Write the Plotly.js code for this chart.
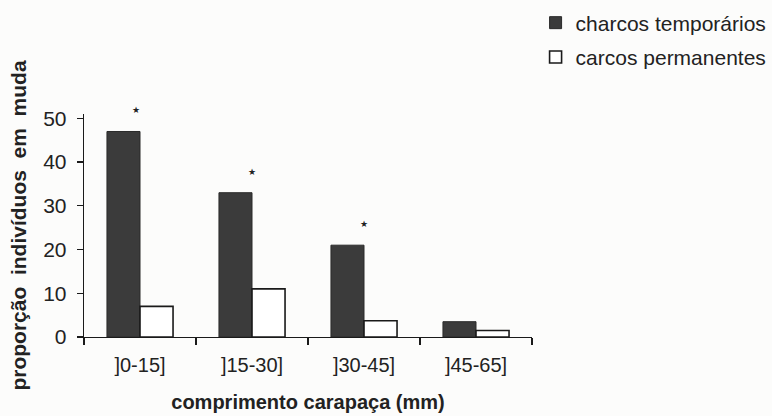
<!DOCTYPE html>
<html>
<head>
<meta charset="utf-8">
<script src="https://cdn.plot.ly/plotly-3.0.1.min.js"></script>
<style>
  html, body { margin: 0; padding: 0; background: #fcfcfb; }
  #chart { width: 772px; height: 416px; }
</style>
</head>
<body>
<div id="chart"></div>
<script>
// Carapace-length classes
const classes = [']0-15]', ']15-30]', ']30-45]', ']45-65]'];
// Proportion of moulting individuals (%)
const temporaryPools = [47, 33, 21, 3.5];
const permanentPools = [7, 11, 3.7, 1.5];
// Classes with a significant difference
const significant = [true, true, true, false];

const FONT = '"Liberation Sans", Arial, Helvetica, sans-serif';
const INK = '#222222';

const traces = [
  {
    type: 'bar',
    name: 'charcos temporários',
    legendgroup: 'a',
    x: classes,
    y: temporaryPools,
    marker: { color: '#3b3b3b', line: { color: '#2a2a2a', width: 1 } }
  },
  {
    type: 'bar',
    name: 'carcos permanentes',
    legendgroup: 'b',
    x: classes,
    y: permanentPools,
    marker: { color: '#ffffff', line: { color: '#1a1a1a', width: 1.6 } }
  }
];

// Star markers above the classes that differ significantly
const stars = [];
classes.forEach((c, i) => {
  if (significant[i]) {
    stars.push({
      x: c, y: temporaryPools[i], xref: 'x', yref: 'y',
      text: '★', showarrow: false,
      font: { family: '"DejaVu Sans", sans-serif', size: 9, color: INK },
      yshift: 21, xshift: i === 0 ? -4 : 0
    });
  }
});

const layout = {
  width: 772,
  height: 416,
  paper_bgcolor: '#fcfcfb',
  plot_bgcolor: 'rgba(0,0,0,0)',
  margin: { l: 84, r: 240, t: 114, b: 79, autoexpand: false },
  barmode: 'group',
  bargap: 0.41,
  bargroupgap: 0,
  font: { family: FONT, color: INK, size: 20 },
  showlegend: true,
  legend: {
    x: 1.008, xanchor: 'left',
    y: 1.5, yanchor: 'top',
    bgcolor: 'rgba(0,0,0,0)',
    font: { family: FONT, size: 21, color: INK },
    tracegroupgap: 4,
    itemclick: false
  },
  xaxis: {
    showline: true, linecolor: '#1a1a1a', linewidth: 1.3,
    ticks: 'outside', tickson: 'boundaries', ticklen: 7, tickcolor: '#1a1a1a', tickwidth: 1.3,
    ticklabelstandoff: 10,
    showgrid: false, zeroline: false,
    tickfont: { family: FONT, size: 20, color: INK },
    title: {
      text: '<b>comprimento carapaça (mm)</b>',
      font: { family: FONT, size: 20, color: INK },
      standoff: 19
    }
  },
  yaxis: {
    range: [0, 51],
    tickvals: [0, 10, 20, 30, 40, 50],
    showline: true, linecolor: '#1a1a1a', linewidth: 1.3,
    ticks: 'outside', ticklen: 6, tickcolor: '#1a1a1a', tickwidth: 1.3,
    ticklabelstandoff: 6,
    showgrid: false, zeroline: false,
    tickfont: { family: FONT, size: 21, color: INK },
    title: {
      text: '<b>proporção&nbsp; indivíduos&nbsp; em&nbsp; muda</b>',
      font: { family: FONT, size: 21, color: INK },
      standoff: 10
    }
  },
  annotations: stars
};

Plotly.newPlot('chart', traces, layout, { displayModeBar: false, staticPlot: true });
</script>
</body>
</html>
